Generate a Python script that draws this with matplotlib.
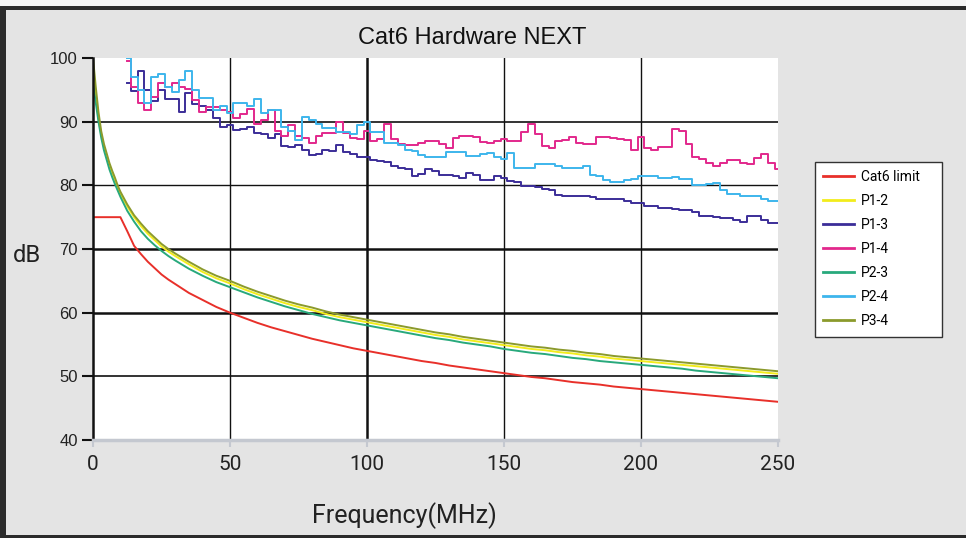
import numpy as np
import matplotlib.pyplot as plt
from matplotlib.patches import Rectangle

# frequency grids (MHz)
freq = list(range(0, 11)) + [12.5, 15, 17.5, 20, 22.5, 25, 27.5] + list(range(30, 255, 5))
freq_meas = np.arange(12.5, 250.1, 2.5)

cat6_limit = [75, 75, 75, 75, 75, 75, 75, 75, 75, 75, 75,
              72.8, 70.5, 69.2, 68, 67, 66, 65.2,
              64.5, 63.1, 62, 60.9, 60, 59.2, 58.4, 57.7, 57.1, 56.5, 55.9, 55.4, 54.9, 54.4,
              54, 53.6, 53.2, 52.8, 52.4, 52.1, 51.7, 51.4, 51.1, 50.8, 50.5, 50.2, 49.9, 49.7,
              49.4, 49.1, 48.9, 48.7, 48.4, 48.2, 48, 47.8, 47.6, 47.4, 47.2, 47, 46.8, 46.6,
              46.4, 46.2, 46]
p12 = [97.5, 94, 90.5, 88, 86, 84.5, 83, 82, 80.8, 79.7, 78.7,
       76.7, 75, 73.6, 72.4, 71.4, 70.4, 69.6,
       68.9, 67.6, 66.4, 65.4, 64.6, 63.7, 62.9, 62.2, 61.5, 60.9, 60.4, 59.8, 59.3, 58.9,
       58.5, 58.1, 57.7, 57.3, 56.9, 56.5, 56.2, 55.8, 55.5, 55.2, 54.9, 54.6, 54.3, 54.1,
       53.8, 53.6, 53.3, 53.1, 52.8, 52.6, 52.4, 52.2, 52, 51.8, 51.6, 51.4, 51.2, 51,
       50.8, 50.6, 50.4]
p23 = [96, 93, 90, 87.5, 85.5, 84, 82.5, 81.3, 80.2, 79.2, 78.2,
       76, 74.3, 72.8, 71.6, 70.6, 69.7, 68.9,
       68.2, 66.9, 65.8, 64.8, 64, 63.2, 62.4, 61.7, 61, 60.4, 59.8, 59.3, 58.8, 58.4,
       58, 57.6, 57.2, 56.8, 56.4, 56, 55.7, 55.3, 55, 54.7, 54.3, 54, 53.7, 53.5,
       53.2, 52.9, 52.7, 52.4, 52.2, 52, 51.8, 51.6, 51.4, 51.2, 50.9, 50.7, 50.5, 50.3,
       50.1, 49.9, 49.7]
p34 = [100, 95.5, 91.5, 88.5, 86.5, 85, 83.5, 82.3, 81.2, 80, 79,
       77, 75.3, 74, 72.8, 71.8, 70.8, 70,
       69.3, 68, 66.8, 65.8, 65, 64.1, 63.3, 62.6, 61.9, 61.3, 60.8, 60.2, 59.7, 59.3,
       58.9, 58.5, 58.1, 57.7, 57.3, 56.9, 56.6, 56.2, 55.9, 55.6, 55.3, 55, 54.7, 54.5,
       54.2, 54, 53.7, 53.5, 53.2, 53, 52.8, 52.6, 52.4, 52.2, 52, 51.8, 51.6, 51.4,
       51.2, 51, 50.8]

p13 = [96, 94.8, 98, 95, 93.3, 95, 93.6, 93.5, 91.5, 94.5,
       92.8, 92.5, 91.8, 90.5, 89.2, 89.5, 88.7, 88.9, 89.2, 88.2,
       88.1, 87.5, 88.0, 86.1, 86.0, 86.3, 85.6, 84.8, 85.0, 85.6,
       85.4, 86.4, 85.3, 85.0, 84.4, 84.5, 84.0, 83.8, 83.6, 83.0,
       82.8, 82.6, 81.5, 81.8, 82.5, 82.3, 81.7, 81.7, 81.4, 81.2,
       82.0, 81.6, 80.9, 80.9, 81.4, 81.2, 80.7, 80.6, 79.9, 79.9,
       79.8, 79.5, 79.3, 78.5, 78.4, 78.4, 78.3, 78.3, 78.2, 77.8,
       77.8, 77.9, 77.8, 77.6, 77.2, 77.2, 76.8, 76.8, 76.5, 76.5,
       76.3, 76.1, 76.1, 75.8, 75.2, 75.2, 75.0, 74.9, 74.9, 74.6,
       74.2, 75.2, 75.2, 74.6, 74.1, 74.1]
p14 = [99.5, 95.5, 93, 91.8, 93.9, 96, 95.5, 96, 95.5, 95.2,
       93.4, 91.5, 92.3, 92.3, 91.8, 91.5, 90.5, 91.2, 92, 89.7,
       90.2, 91.8, 88.5, 87.7, 89.5, 87.7, 87.5, 86.6, 87.7, 88.2,
       88.2, 90, 88.2, 87.4, 87.2, 88.5, 87, 87.3, 89.6, 87.2,
       86.5, 86.4, 86.3, 86.6, 87, 87, 86.5, 85.9, 87.5, 87.7,
       87.8, 87.6, 86.8, 86.7, 87.0, 87.2, 87, 86.9, 88.3, 89.6,
       88, 86.2, 85.9, 87, 87.1, 87.6, 86.6, 86.5, 86.5, 87.6,
       87.6, 87.4, 87.3, 87.1, 85.6, 87.6, 85.8, 85.5, 86, 86,
       88.9, 88.5, 86.5, 84.5, 84.2, 83.5, 83, 83.5, 84, 84,
       83.5, 83.4, 84.3, 85, 83.5, 82.6]
p24 = [100, 97, 95, 93, 97, 97.5, 95.5, 94.6, 96.5, 97.9,
       95, 93.7, 93.7, 91.8, 92.4, 91.3, 92.9, 93, 92.5, 93.5,
       91.3, 91.8, 91.8, 89.2, 88.5, 87.1, 90.8, 90.3, 89.7, 89,
       89, 88.4, 88.4, 88, 89.5, 90, 88.3, 88.3, 86.7, 86.6,
       86.4, 85.6, 85.4, 84.8, 84.4, 84.4, 84.4, 85.3, 85.3, 85.2,
       84.6, 84.6, 85, 85.1, 84.5, 84.1, 85.1, 82.8, 82.8, 82.8,
       83.3, 83.3, 83.3, 83.1, 82.8, 82.8, 82.7, 83, 81.6, 81.4,
       80.8, 80.6, 80.6, 80.8, 81, 81.5, 81.5, 81.5, 81.2, 81.2,
       81.3, 81, 81, 80, 80, 80.2, 80.4, 79.2, 78.6, 78.6,
       78.4, 78.4, 78.4, 77.9, 77.6, 77.6]

xticks = [0, 50, 100, 150, 200, 250]
yticks = [40, 50, 60, 70, 80, 90, 100]

fig = plt.figure(figsize=(9.66, 5.38), dpi=100)
fig.patch.set_facecolor('#e4e4e4')
# frame of the panel
fig.patches.append(Rectangle((0, 1 - 10 / 538), 1, 10 / 538, transform=fig.transFigure,
                             facecolor='#f4f4f4', edgecolor='none'))
fig.patches.append(Rectangle((0, 1 - 10 / 538), 1, 4 / 538, transform=fig.transFigure,
                             facecolor='#2b2b2b', edgecolor='none'))
fig.patches.append(Rectangle((0, 0), 6 / 966, 1 - 6 / 538, transform=fig.transFigure,
                             facecolor='#2b2b2b', edgecolor='none'))
fig.patches.append(Rectangle((0, 0), 1, 3 / 538, transform=fig.transFigure,
                             facecolor='#2b2b2b', edgecolor='none'))

ax = fig.add_axes([93 / 966, 1 - 440 / 538, 685 / 966, 382 / 538])
ax.set_facecolor('white')

for x, lw in zip([50, 100, 150, 200], [1.0, 1.8, 1.0, 1.0]):
    ax.axvline(x, color='#111111', lw=lw, zorder=1)
for y, lw in zip([50, 60, 70, 80, 90], [1.2, 1.8, 1.8, 1.0, 1.2]):
    ax.axhline(y, color='#111111', lw=lw, zorder=1)

ax.plot(freq, cat6_limit, color='#e8302a', lw=1.4, label='Cat6 limit')
ax.plot(freq, p12, color='#f2ec1c', lw=1.4, label='P1-2')
ax.plot(freq_meas, p13, color='#3b2d98', lw=1.4, drawstyle='steps-mid', label='P1-3')
ax.plot(freq_meas, p14, color='#e2288c', lw=1.4, drawstyle='steps-mid', label='P1-4')
ax.plot(freq, p23, color='#28a97c', lw=1.4, label='P2-3')
ax.plot(freq_meas, p24, color='#3db5ec', lw=1.4, drawstyle='steps-mid', label='P2-4')
ax.plot(freq, p34, color='#8b9a2c', lw=1.4, label='P3-4')

ax.set_xlim(0, 250)
ax.set_ylim(40, 100)
ax.set_xticks(xticks)
ax.set_yticks(yticks)
ax.set_xticklabels([str(v) for v in xticks], fontsize=15, family='Roboto', color='#222222')
ax.set_yticklabels([str(v) for v in yticks], fontsize=12, family='Liberation Sans', color='#222222')
ax.tick_params(axis='y', direction='out', length=8, width=1.5, color='#111111', pad=3)
ax.tick_params(axis='x', direction='out', length=5, width=1.5, color='#c4c8d0', pad=6)

for side in ['top', 'right']:
    ax.spines[side].set_visible(False)
ax.spines['left'].set_color('#111111')
ax.spines['left'].set_linewidth(1.8)
ax.spines['bottom'].set_color('#c4c8d0')
ax.spines['bottom'].set_linewidth(2.5)

fig.text(472 / 966, 1 - 38 / 538, 'Cat6 Hardware NEXT', ha='center', va='center',
         fontsize=17, family='Liberation Sans', color='#111111')
fig.text(27 / 966, 1 - 256 / 538, 'dB', ha='center', va='center',
         fontsize=17, family='Roboto', color='#222222')
fig.text(404 / 966, 1 - 516 / 538, 'Frequency(MHz)', ha='center', va='center',
         fontsize=18, family='Roboto', color='#222222')

leg = fig.legend(loc='upper left', bbox_to_anchor=(815 / 966, 1 - 333 / 538, 127 / 966, 171 / 538),
                 mode='expand', fancybox=False, framealpha=1, edgecolor='#333333',
                 prop={'family': 'Roboto', 'size': 10}, handlelength=2.2, handletextpad=0.5,
                 labelspacing=0.72, borderpad=0.6, borderaxespad=0)
leg.get_frame().set_linewidth(1.0)
for line in leg.get_lines():
    line.set_linewidth(2)

fig.savefig('out.png', dpi=100, facecolor=fig.get_facecolor())
